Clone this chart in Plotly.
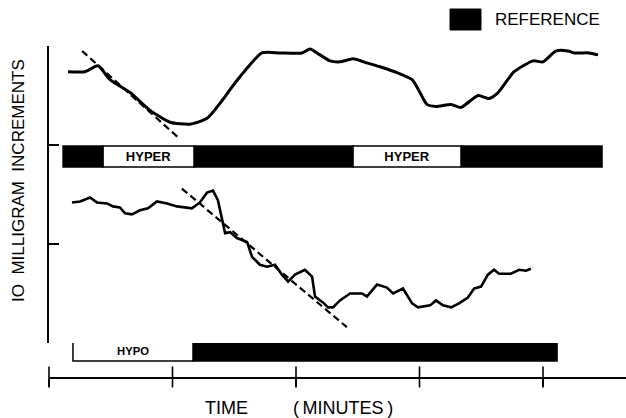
import plotly.graph_objects as go

# ---------------- data (time in minutes, response in mg) ----------------
top_t = [0.77, 1.46, 1.98, 2.47, 3.28, 4.09, 4.90, 5.71, 6.40, 7.04,
         7.33, 7.73, 8.62, 9.35, 10.24, 10.57, 10.97, 11.38, 11.78, 12.31,
         12.87, 13.40, 14.09, 14.70, 15.02, 15.30, 15.67, 16.28, 16.68, 17.37,
         17.81, 18.18, 18.83, 19.60, 20.00, 20.53, 21.01, 21.26, 21.86, 22.23]
top_mg = [27.4, 27.4, 28.0, 26.6, 25.3, 23.5, 22.3, 22.1, 22.7, 24.6,
          25.6, 26.9, 29.3, 29.3, 29.3, 29.7, 29.1, 28.5, 28.4, 28.7,
          28.3, 27.9, 27.3, 26.6, 25.3, 24.1, 23.9, 24.1, 23.8, 25.0,
          24.7, 25.3, 27.4, 28.5, 28.4, 29.5, 29.5, 29.3, 29.3, 29.1]

bot_t = [0.93, 1.26, 1.66, 1.94, 2.35, 2.59, 2.87, 3.08, 3.36, 3.68,
         4.01, 4.37, 4.78, 5.18, 5.79, 6.11, 6.40, 6.64, 6.84, 7.00,
         7.13, 7.33, 7.61, 8.02, 8.22, 8.54, 8.83, 9.15, 9.43, 9.68,
         9.96, 10.36, 10.65, 10.77, 11.09, 11.30, 11.50, 11.78, 12.19, 12.67,
         12.87, 13.28, 13.68, 13.93, 14.33, 14.70, 14.94, 15.43, 15.67, 15.95,
         16.28, 16.60, 16.96, 17.21, 17.49, 17.77, 18.02, 18.22, 18.70, 19.03,
         19.31, 19.51]
bot_mg = [14.2, 14.3, 14.7, 14.2, 14.1, 13.8, 13.7, 13.1, 13.0, 13.4,
          13.6, 14.3, 14.1, 13.8, 13.6, 14.2, 15.2, 15.4, 14.4, 12.4,
          11.1, 11.2, 10.6, 10.2, 8.7, 7.9, 7.7, 7.9, 6.9, 6.2,
          6.9, 7.4, 6.7, 4.7, 4.1, 3.6, 3.6, 4.3, 5.0, 5.0,
          4.7, 5.9, 5.6, 5.0, 5.5, 4.0, 3.6, 3.8, 4.3, 3.8,
          3.6, 4.0, 4.6, 5.5, 5.7, 6.9, 7.4, 7.0, 7.0, 7.4,
          7.3, 7.5]

fit1_t = [1.34, 5.30]
fit1_mg = [29.5, 20.6]
fit2_t = [5.38, 12.06]
fit2_mg = [15.6, 1.6]

top_phase = ["REFERENCE", "HYPER", "REFERENCE", "HYPER", "REFERENCE"]
top_phase_start = [0.57, 2.19, 5.87, 12.31, 16.68]
top_phase_end = [2.19, 5.87, 12.31, 16.68, 22.39]

bot_phase = ["HYPO", "REFERENCE"]
bot_phase_start = [0.97, 5.83]
bot_phase_end = [5.83, 20.57]

time_ticks = [0, 5, 10, 15, 20]
mg_ticks = [0, 10, 20, 30]

# ---------------- layout geometry ----------------
W, H = 626, 418
ML, MR, MT, MB = 49, 0, 0, 41
PH = H - MT - MB
PW = W - ML - MR
FONT = "Liberation Sans, Arial, sans-serif"


def ypap(py):
    return (H - MB - py) / PH


def xpap(px):
    return (px - ML) / PW


fig = go.Figure()


def add_phase_bars(names, starts, ends, row, thick, yaxis):
    for kind, fill in (("REFERENCE", "black"), ("HYPER", "white"), ("HYPO", "white")):
        idx = [i for i, n in enumerate(names) if n == kind]
        if not idx:
            continue
        fig.add_trace(go.Bar(
            orientation="h",
            base=[starts[i] for i in idx],
            x=[ends[i] - starts[i] for i in idx],
            y=[row] * len(idx),
            width=thick,
            yaxis=yaxis, xaxis="x",
            marker=dict(color=fill, line=dict(color="black", width=1.5)),
            text=[("" if kind == "REFERENCE" else kind) for _ in idx],
            textposition="inside", insidetextanchor="middle",
            textfont=dict(family=FONT, size=13, color="black", weight="bold"),
            showlegend=False, hoverinfo="skip",
        ))


# top panel signal and tangent
fig.add_trace(go.Scatter(x=top_t, y=top_mg, mode="lines", yaxis="y2",
                         line=dict(color="black", width=3, shape="spline", smoothing=0.6),
                         showlegend=False))
fig.add_trace(go.Scatter(x=fit1_t, y=fit1_mg, mode="lines", yaxis="y2",
                         line=dict(color="black", width=2.2, dash="7px,4px"),
                         showlegend=False))
# bottom panel signal and tangent
fig.add_trace(go.Scatter(x=bot_t, y=bot_mg, mode="lines", yaxis="y2",
                         line=dict(color="black", width=2.6),
                         showlegend=False))
fig.add_trace(go.Scatter(x=fit2_t, y=fit2_mg, mode="lines", yaxis="y2",
                         line=dict(color="black", width=2.2, dash="7px,4px"),
                         showlegend=False))

add_phase_bars(top_phase, top_phase_start, top_phase_end, 18.84, 2.12, "y2")
add_phase_bars(bot_phase, bot_phase_start, bot_phase_end, -0.86, 1.92, "y")

# cross ticks on the time axis
y_rng = [-(H - MB - 343) / 9.9, 13 / 9.9]
fig.add_trace(go.Scatter(x=time_ticks, y=[y_rng[0]] * len(time_ticks), mode="markers",
                         yaxis="y", cliponaxis=False,
                         marker=dict(symbol="line-ns", size=15, line=dict(color="black", width=1.6)),
                         showlegend=False, hoverinfo="skip"))

NB = "\u00a0"
TS = "\u2009"
fig.update_layout(
    width=W, height=H,
    margin=dict(l=ML, r=MR, t=MT, b=MB, pad=0),
    paper_bgcolor="white", plot_bgcolor="white",
    barmode="overlay",
    font=dict(family=FONT, color="black"),
    xaxis=dict(range=[0, PW / 24.7], anchor="y", showline=True, linecolor="black", linewidth=1.6,
               ticks="outside", ticklen=8, tickwidth=1.6, tickcolor="black",
               tickvals=time_ticks, showticklabels=False, showgrid=False, zeroline=False),
    yaxis=dict(domain=[0, 47 / PH], range=y_rng, visible=False),
    yaxis2=dict(domain=[ypap(343), ypap(46)], range=[0, 30], anchor="x",
                showline=True, linecolor="black", linewidth=1.6,
                ticks="inside", ticklen=10, tickwidth=1.6, tickcolor="black",
                tickvals=mg_ticks, showticklabels=False, showgrid=False, zeroline=False),
    shapes=[dict(type="rect", xref="paper", yref="paper",
                 x0=xpap(450), x1=xpap(481), y0=ypap(30), y1=ypap(9),
                 fillcolor="black", line=dict(color="black", width=1))],
    annotations=[
        dict(text="REFERENCE", xref="paper", yref="paper", x=xpap(493), y=ypap(19),
             xanchor="left", yanchor="middle", showarrow=False, font=dict(size=17)),
        dict(text="TIME" + NB * 9 + "(" + TS + "MINUTES" + TS + ")", xref="paper", yref="paper",
             x=xpap(299), y=ypap(408), xanchor="center", yanchor="middle", showarrow=False,
             font=dict(size=18)),
        dict(text="IO" + NB * 2 + "MILLIGRAM" + NB * 2 + "INCREMENTS", xref="paper", yref="paper",
             x=xpap(18), y=ypap(181), xanchor="center", yanchor="middle", textangle=-90,
             showarrow=False, font=dict(size=17)),
    ],
)

fig.write_html("out.html", config={"displayModeBar": False, "staticPlot": True},
               post_script="document.body.style.margin='0';document.body.style.overflow='hidden';")
